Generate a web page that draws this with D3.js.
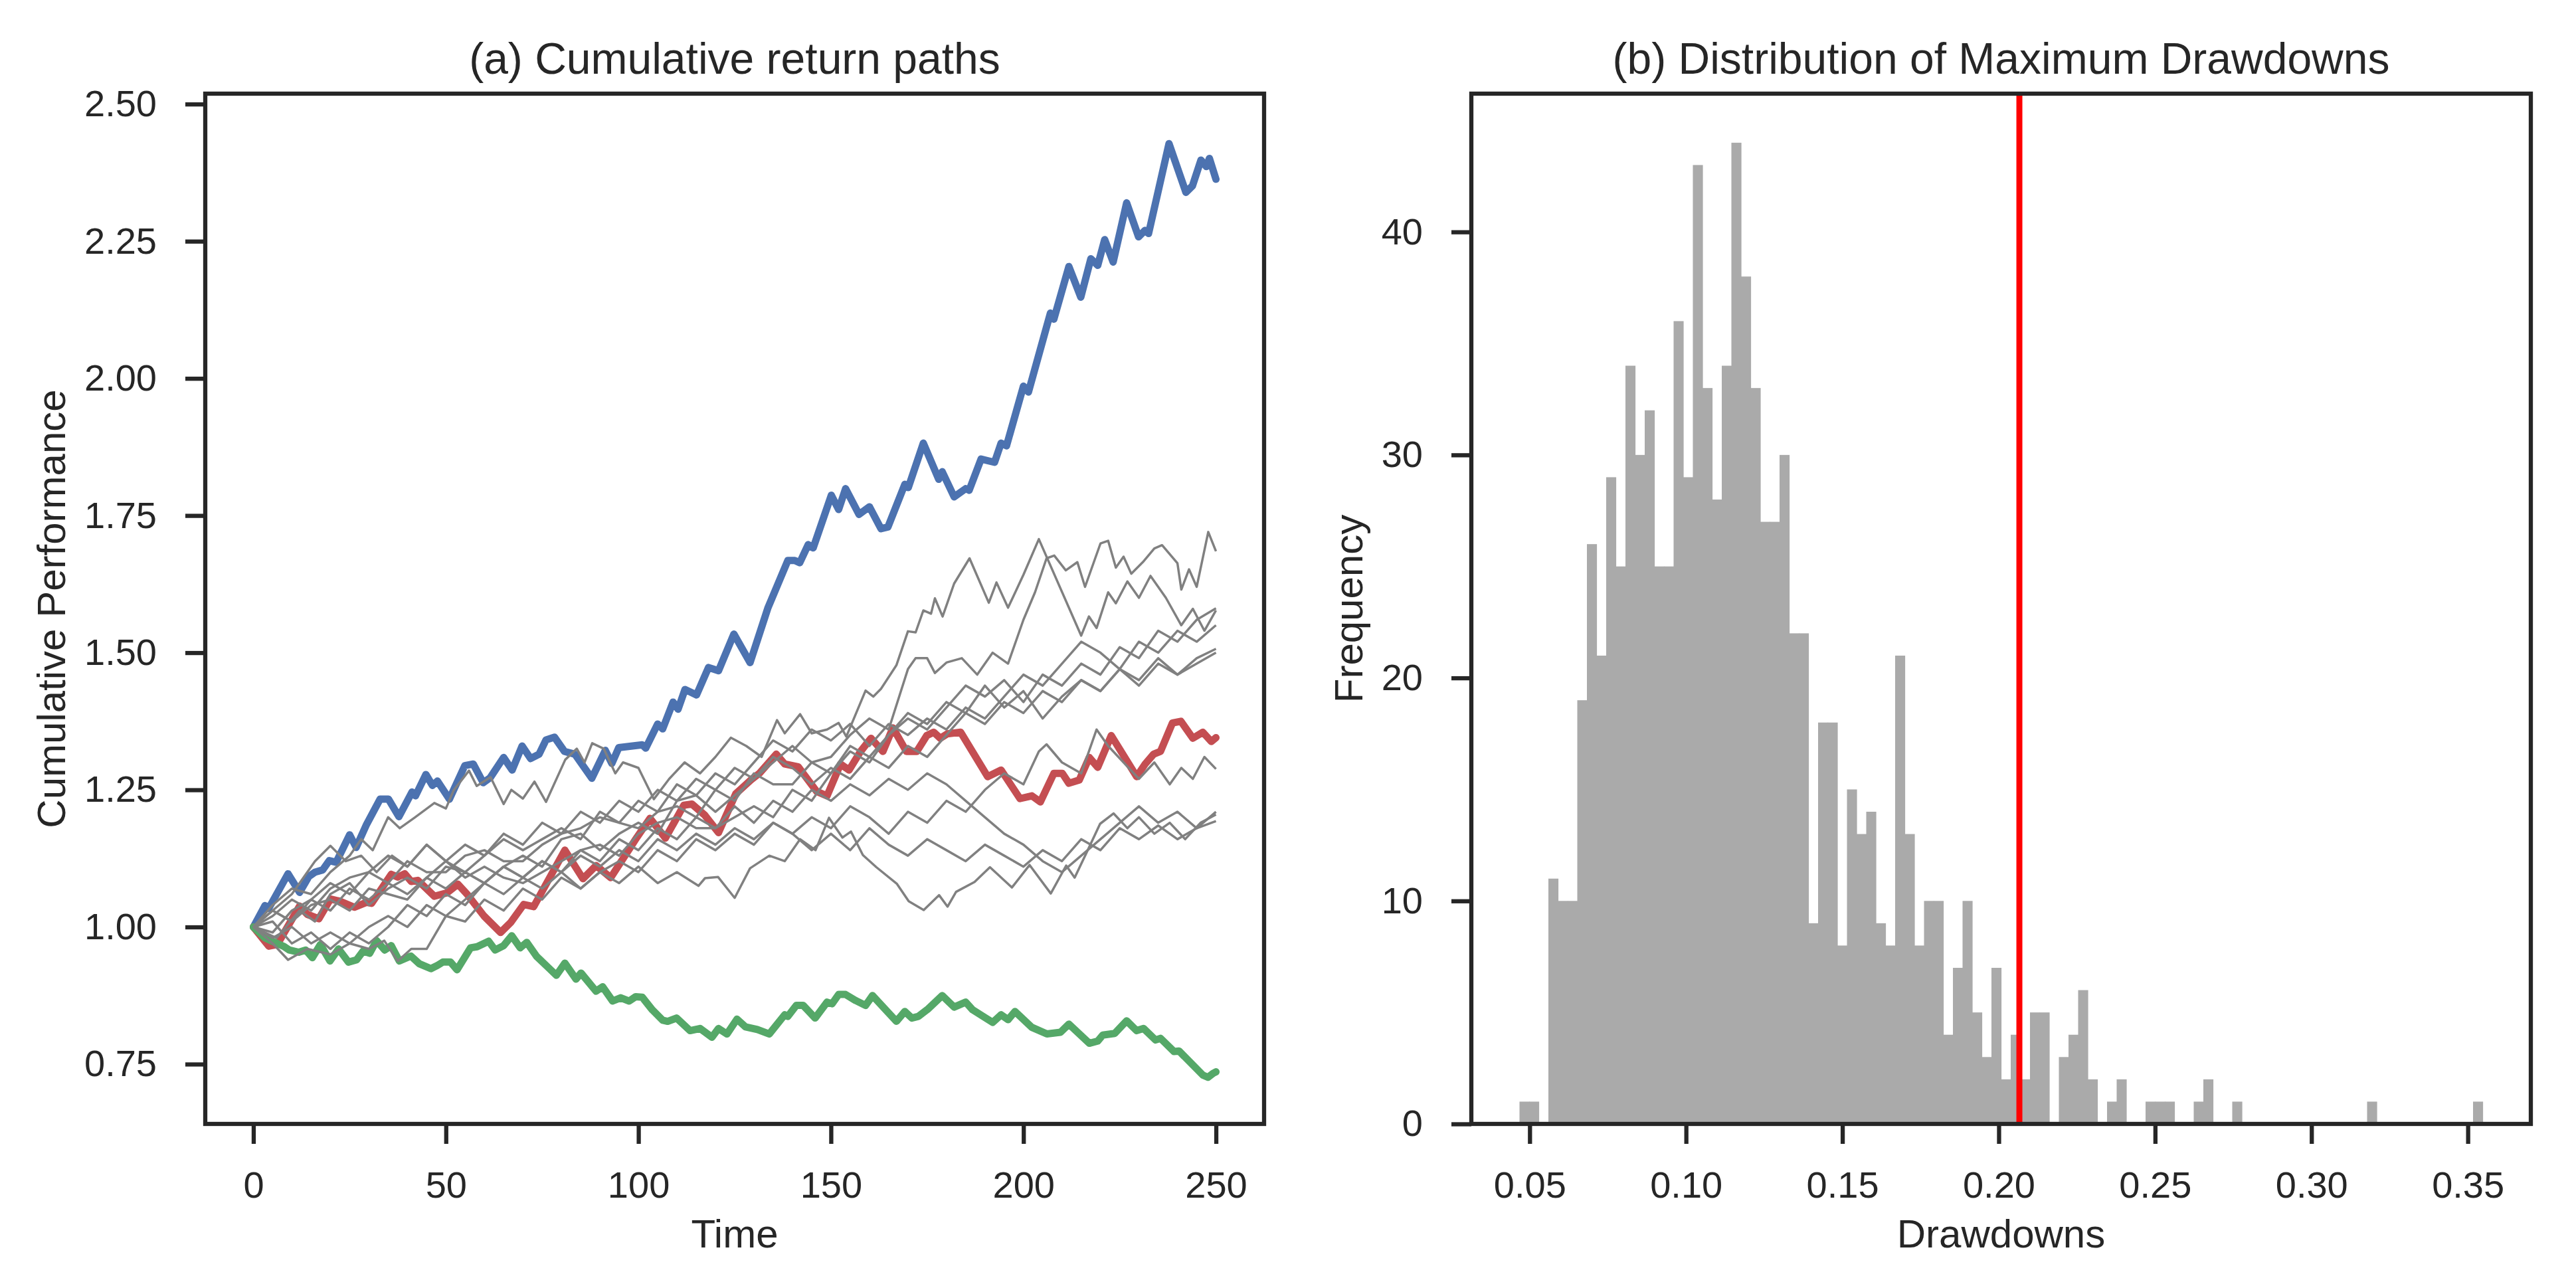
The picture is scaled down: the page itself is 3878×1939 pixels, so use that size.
<!DOCTYPE html>
<html><head><meta charset="utf-8">
<script src="https://cdn.jsdelivr.net/npm/d3@7"></script>
<style>
body{margin:0;background:#fff}
</style>
</head><body>
<svg id="c" width="3878" height="1939" xmlns="http://www.w3.org/2000/svg"></svg>
<script>
// ---------------- DATA ----------------
const timeTicks = [0, 50, 100, 150, 200, 250];
const perfTicks = [0.75, 1.00, 1.25, 1.50, 1.75, 2.00, 2.25, 2.50];
const ddTicks = [0.05, 0.10, 0.15, 0.20, 0.25, 0.30, 0.35];
const freqTicks = [0, 10, 20, 30, 40];

// best path (blue): [time, cumulative performance]
const bluePath = [[0,1.000],[3,1.039],[4,1.034],[9,1.097],[12,1.063],[14.4,1.092],[16,1.100],[18,1.104],[19.7,1.121],[21.5,1.118],[25,1.168],[26.7,1.145],[29.4,1.187],[32.9,1.233],[35.1,1.233],[37.8,1.201],[41.2,1.246],[42.1,1.239],[44.8,1.278],[46.5,1.258],[47.8,1.266],[50.9,1.233],[54.9,1.294],[57.1,1.297],[59.7,1.263],[61.5,1.272],[65,1.309],[67.2,1.286],[69.8,1.330],[72,1.307],[74.2,1.315],[76,1.341],[78.2,1.346],[80.8,1.320],[83.5,1.315],[87.9,1.271],[91.4,1.322],[93.1,1.298],[94.9,1.327],[101,1.332],[101.9,1.326],[105,1.370],[106.3,1.361],[109,1.410],[110.3,1.397],[112.1,1.433],[115.1,1.423],[118.2,1.473],[120.8,1.467],[124.8,1.534],[129,1.482],[133.6,1.581],[138.8,1.668],[140.6,1.668],[141.9,1.664],[144.1,1.697],[145.4,1.691],[150.1,1.787],[152,1.761],[153.8,1.799],[157.3,1.752],[160,1.766],[163,1.726],[164.8,1.729],[169.2,1.807],[170.1,1.801],[174,1.882],[178,1.816],[178.9,1.830],[182,1.784],[185,1.799],[185.9,1.796],[189,1.853],[190.7,1.850],[192.5,1.847],[194.2,1.882],[195.6,1.877],[200,1.986],[201.3,1.975],[207,2.119],[207.9,2.108],[211.8,2.204],[214.9,2.148],[217.5,2.218],[219.3,2.206],[221.1,2.253],[223.3,2.212],[226.8,2.320],[229.9,2.258],[231.6,2.270],[232.5,2.264],[237.8,2.428],[242.2,2.339],[243.9,2.351],[246.1,2.398],[247.5,2.386],[248.3,2.401],[250,2.363]];

// median path (red)
const redPath = [[0,1.000],[4,0.965],[6.2,0.968],[12,1.038],[14,1.023],[17,1.015],[20,1.051],[22.5,1.047],[26.2,1.036],[29.4,1.045],[30.7,1.043],[35.8,1.096],[37.5,1.091],[39.3,1.097],[41,1.083],[42.7,1.085],[47,1.056],[50.2,1.062],[53.1,1.078],[55.6,1.059],[59.9,1.020],[64.2,0.990],[66.8,1.008],[70.2,1.041],[72.8,1.037],[80.9,1.140],[85.6,1.088],[89,1.112],[92.8,1.090],[99.3,1.160],[103,1.198],[107,1.162],[111.8,1.222],[113.9,1.224],[117.2,1.204],[120.8,1.172],[125.3,1.243],[127.5,1.257],[129.2,1.268],[131.4,1.280],[135.8,1.315],[138,1.297],[141.5,1.292],[146.3,1.247],[149,1.239],[152.5,1.297],[154.7,1.286],[157.7,1.320],[160.4,1.344],[163.5,1.320],[166.1,1.363],[169.6,1.320],[172.3,1.320],[174.9,1.349],[176.7,1.355],[178.4,1.344],[180.2,1.352],[183.7,1.355],[190.7,1.274],[194.2,1.286],[199.1,1.234],[202.2,1.239],[204.4,1.228],[207.9,1.280],[210.1,1.280],[211.8,1.262],[214.5,1.268],[217.1,1.309],[219.3,1.291],[222.8,1.349],[229.4,1.274],[231.6,1.297],[233.8,1.315],[235.6,1.320],[238.7,1.372],[240.9,1.375],[244,1.344],[246.6,1.355],[248.8,1.338],[250,1.345]];

// worst path (green)
const greenPath = [[0,1.000],[3,0.980],[7.8,0.965],[9.3,0.958],[11.8,0.954],[13.6,0.958],[15.3,0.944],[17.4,0.968],[19.9,0.938],[22.1,0.960],[24.7,0.936],[26.8,0.940],[28.5,0.956],[30.2,0.952],[32,0.975],[34.1,0.958],[35.8,0.966],[37.9,0.938],[40.9,0.947],[43.1,0.933],[46.1,0.924],[47.8,0.930],[49.2,0.936],[51.2,0.936],[52.9,0.922],[56.4,0.962],[58.1,0.964],[61.1,0.974],[62.8,0.958],[65,0.966],[67.1,0.984],[69.3,0.962],[71,0.972],[73.6,0.946],[76.6,0.926],[78.7,0.912],[80.9,0.934],[83.8,0.905],[85.1,0.916],[89,0.883],[90.7,0.891],[93.3,0.865],[95.4,0.871],[97.6,0.865],[99.3,0.873],[101,0.872],[103.6,0.849],[106.3,0.830],[107.6,0.828],[109.9,0.834],[113.4,0.811],[116,0.815],[119.1,0.799],[120.8,0.815],[123,0.805],[125.6,0.832],[127.8,0.818],[130.9,0.813],[134,0.805],[138,0.840],[138.8,0.837],[141,0.857],[142.8,0.857],[145.9,0.834],[149,0.863],[150.3,0.860],[152,0.877],[153.8,0.877],[156.4,0.866],[159,0.857],[160.8,0.875],[167,0.828],[169.2,0.846],[171,0.834],[172.7,0.837],[175.3,0.851],[178.9,0.875],[182,0.854],[185,0.863],[186.8,0.849],[192,0.826],[194.2,0.840],[196,0.831],[197.8,0.846],[202.2,0.817],[206.1,0.805],[209.6,0.808],[211.8,0.823],[217.1,0.788],[219.3,0.792],[220.6,0.803],[223.7,0.806],[226.8,0.829],[229.4,0.811],[231.2,0.815],[234.3,0.794],[235.6,0.797],[239.1,0.773],[240.4,0.774],[246.6,0.730],[247.9,0.726],[249.2,0.733],[250,0.736]];

// other simulated paths (grey)
const grey1 = [[0,1.00],[5,1.04],[10,1.07],[15,1.06],[20,1.10],[25,1.13],[28,1.16],[31,1.14],[35,1.20],[38,1.18],[42,1.20],[47,1.226],[50,1.216],[52,1.249],[56,1.285],[58,1.257],[61.6,1.273],[65,1.224],[67,1.25],[70,1.234],[73,1.265],[76,1.228],[81,1.305],[84,1.325],[86,1.30],[88,1.335],[91,1.325],[94,1.28],[96,1.30],[100,1.29],[104,1.233],[108,1.27],[112,1.30],[116,1.28],[120,1.31],[124,1.345],[128,1.33],[132,1.31],[136,1.377],[138,1.353],[142,1.388],[145,1.353],[149,1.36],[152,1.372],[154,1.347],[159,1.431],[161,1.42],[163,1.434],[167,1.477],[170,1.539],[172,1.537],[174,1.577],[176,1.571],[177,1.599],[179,1.566],[182,1.626],[186,1.672],[191,1.591],[193,1.628],[196,1.582],[200,1.642],[204,1.707],[215,1.531],[217,1.566],[219,1.545],[222,1.61],[224,1.59],[227,1.63],[230,1.60],[233,1.64],[237,1.60],[241,1.55],[244,1.58],[247,1.54],[250,1.577]];
const grey2 = [[0,1.00],[6,0.98],[12,1.03],[16,1.01],[20,1.06],[25,1.08],[30,1.04],[35,1.07],[40,1.09],[45,1.07],[50,1.11],[55,1.10],[60,1.08],[65,1.11],[70,1.13],[75,1.11],[80,1.16],[85,1.17],[90,1.14],[95,1.17],[100,1.19],[105,1.17],[110,1.23],[115,1.24],[120,1.21],[125,1.24],[130,1.27],[135,1.30],[140,1.33],[145,1.30],[150,1.31],[155,1.35],[160,1.38],[165,1.36],[170,1.47],[172,1.49],[175,1.49],[177,1.463],[180,1.482],[184,1.49],[188,1.46],[192,1.50],[196,1.48],[200,1.56],[203,1.61],[206,1.672],[208,1.677],[211,1.65],[214,1.665],[216,1.62],[220,1.699],[222,1.704],[224,1.655],[226,1.675],[228,1.644],[231,1.665],[234,1.69],[236,1.696],[240,1.663],[241,1.615],[243,1.652],[245,1.62],[248,1.72],[250,1.685]];
const grey3 = [[0,1.00],[5,1.03],[10,1.01],[15,1.05],[20,1.03],[25,1.07],[30,1.05],[35,1.08],[40,1.06],[45,1.09],[50,1.07],[55,1.10],[60,1.08],[65,1.11],[70,1.09],[75,1.12],[80,1.10],[85,1.07],[90,1.10],[95,1.08],[100,1.11],[105,1.08],[110,1.10],[115.6,1.075],[117.3,1.089],[120.7,1.091],[125,1.053],[129,1.107],[134,1.13],[138,1.12],[142,1.16],[146,1.14],[149.5,1.199],[153,1.163],[155.2,1.174],[158.3,1.131],[161.8,1.109],[167.1,1.079],[170.2,1.047],[174.1,1.031],[178.1,1.058],[180.3,1.037],[182.5,1.064],[187.3,1.082],[191.3,1.109],[197,1.072],[201.6,1.113],[207.1,1.061],[211.1,1.112],[213.3,1.09],[216.3,1.134],[219.9,1.188],[223.4,1.207],[227,1.18],[230,1.20],[234,1.17],[238,1.19],[242,1.16],[246,1.19],[250,1.205]];
const grey4 = [[0,1.00],[5,0.97],[9,0.94],[14,0.96],[20,0.95],[25,0.97],[30,0.96],[34,0.975],[37.5,0.938],[41,0.96],[45,0.96],[50,1.02],[55,1.01],[60,1.05],[65,1.03],[70,1.07],[75,1.05],[80,1.09],[85,1.07],[90,1.10],[95,1.12],[100,1.10],[105,1.14],[110,1.12],[115,1.16],[120,1.14],[125,1.17],[130,1.15],[135,1.19],[140,1.17],[145,1.20],[150,1.18],[155,1.22],[160,1.20],[165,1.17],[170,1.21],[175,1.19],[180,1.23],[185,1.21],[190,1.25],[195,1.28],[200,1.26],[204,1.32],[206,1.333],[210,1.30],[215,1.28],[219,1.36],[222,1.33],[226,1.30],[230,1.27],[234,1.30],[238,1.26],[241,1.29],[244,1.27],[247,1.31],[250,1.288]];
const grey5 = [[0,1.00],[5,0.98],[10,1.00],[15,0.97],[20,0.99],[25,0.97],[30,1.00],[35,1.02],[40,1.00],[45,1.04],[50,1.02],[55,1.05],[60,1.08],[65,1.06],[70,1.09],[75,1.07],[80,1.10],[85,1.13],[90,1.11],[95,1.14],[100,1.12],[105,1.16],[110,1.14],[115,1.17],[120,1.15],[125,1.18],[130,1.16],[135,1.19],[140,1.17],[145,1.14],[150,1.17],[155,1.14],[160,1.18],[165,1.15],[170,1.13],[175,1.16],[180,1.14],[185,1.12],[190,1.15],[195,1.13],[200,1.11],[205,1.14],[210,1.12],[215,1.16],[220,1.14],[225,1.18],[230,1.16],[235,1.185],[240,1.16],[245,1.18],[250,1.193]];
const grey6 = [[0,1.00],[5,1.02],[10,1.05],[15,1.03],[20,1.07],[25,1.09],[30,1.10],[35,1.08],[40,1.12],[45,1.10],[50,1.10],[55,1.13],[60,1.14],[65,1.12],[70,1.12],[75,1.15],[80,1.17],[85,1.18],[90,1.20],[95,1.19],[100,1.18],[105,1.21],[110,1.22],[115,1.20],[120,1.25],[125,1.23],[130,1.28],[135,1.26],[140,1.26],[145,1.30],[150,1.28],[155,1.33],[160,1.31],[165,1.35],[170,1.39],[175,1.37],[180,1.41],[185,1.39],[190,1.44],[195,1.40],[200,1.43],[205,1.38],[210,1.42],[215,1.45],[220,1.43],[225,1.47],[230,1.44],[235,1.48],[240,1.46],[245,1.49],[250,1.507]];
const grey7 = [[0,1.00],[5,1.03],[10,1.01],[15,1.04],[20,1.05],[25,1.03],[30,1.07],[35,1.06],[40,1.05],[45,1.09],[50,1.12],[55,1.09],[60,1.11],[65,1.09],[70,1.08],[75,1.10],[80,1.12],[85,1.14],[90,1.15],[95,1.13],[100,1.17],[105,1.19],[110,1.20],[115,1.18],[120,1.18],[125,1.20],[130,1.22],[135,1.20],[140,1.25],[145,1.23],[150,1.28],[155,1.32],[160,1.30],[165,1.35],[170,1.38],[175,1.36],[180,1.40],[185,1.44],[190,1.42],[195,1.45],[200,1.41],[205,1.46],[210,1.44],[215,1.48],[220,1.46],[225,1.51],[230,1.49],[235,1.54],[240,1.52],[245,1.56],[250,1.581]];
const grey8 = [[0,1.00],[5,0.99],[10,1.03],[15,1.05],[20,1.08],[25,1.06],[30,1.10],[35,1.13],[40,1.11],[45,1.15],[50,1.12],[55,1.10],[60,1.13],[65,1.16],[70,1.14],[75,1.16],[80,1.18],[85,1.16],[90,1.21],[95,1.19],[100,1.23],[105,1.21],[110,1.26],[115,1.24],[120,1.28],[125,1.26],[130,1.30],[135,1.34],[140,1.32],[145,1.36],[150,1.34],[155,1.37],[160,1.33],[165,1.37],[170,1.35],[175,1.38],[180,1.36],[185,1.40],[190,1.38],[195,1.42],[200,1.46],[205,1.44],[210,1.48],[215,1.52],[220,1.50],[225,1.47],[230,1.52],[235,1.50],[240,1.54],[245,1.52],[250,1.55]];
const grey9 = [[0,1.00],[5,1.01],[10,0.97],[15,0.99],[20,0.96],[25,0.99],[30,0.97],[35,1.00],[40,1.04],[45,1.02],[50,1.06],[55,1.04],[60,1.08],[65,1.11],[70,1.09],[75,1.12],[80,1.10],[85,1.14],[90,1.12],[95,1.16],[100,1.14],[105,1.18],[110,1.16],[115,1.20],[120,1.18],[125,1.22],[130,1.19],[135,1.23],[140,1.21],[145,1.25],[150,1.23],[155,1.26],[160,1.24],[165,1.27],[170,1.25],[175,1.28],[180,1.26],[185,1.23],[190,1.20],[195,1.17],[200,1.15],[205,1.12],[210,1.10],[215,1.13],[220,1.16],[225,1.19],[230,1.22],[235,1.19],[240,1.21],[245,1.18],[250,1.21]];
const grey10 = [[0,1.00],[5,1.03],[10,1.06],[16,1.12],[20,1.148],[24,1.12],[28,1.13],[32,1.10],[36,1.13],[40,1.11],[45,1.15],[50,1.12],[55,1.15],[60,1.13],[65,1.17],[70,1.15],[75,1.19],[80,1.17],[85,1.21],[90,1.19],[95,1.23],[100,1.21],[105,1.25],[110,1.23],[115,1.27],[120,1.25],[125,1.29],[130,1.27],[135,1.31],[140,1.29],[145,1.26],[150,1.29],[155,1.27],[160,1.31],[165,1.29],[170,1.33],[175,1.31],[180,1.35],[185,1.39],[190,1.37],[195,1.41],[200,1.39],[205,1.43],[210,1.41],[215,1.45],[220,1.43],[225,1.47],[230,1.45],[235,1.49],[240,1.46],[245,1.48],[250,1.50]];
const greyPaths = [grey1, grey2, grey3, grey4, grey5, grey6, grey7, grey8, grey9, grey10];

// histogram of maximum drawdowns: 100 equal bins over the range
const histRange = [0.04675, 0.35475];
const histCounts = [1,1,0,11,10,10,19,26,21,29,25,34,30,32,25,25,36,29,43,33,28,34,44,38,33,27,27,30,22,22,9,18,18,8,15,13,14,9,8,21,13,8,10,10,4,7,
  10,5,3,7,2,4,2,5,5,0,3,4,6,2,0,1,2,0,0,1,1,1,0,0,1,2,0,0,1,
  0,0,0,0,0,0,0,0,0,0,0,0,0,1,0,0,0,0,0,0,0,0,0,0,1];
const ddQuantile = 0.2066;

// ---------------- DRAW ----------------
const FONT = '"Liberation Sans", Arial, Helvetica, sans-serif';
const INK = "#262626";
const svg = d3.select("#c");
svg.append("rect").attr("width", 3878).attr("height", 1939).attr("fill", "#fff");

const TOP = 141, BOT = 1692;
const L = {x0: 309, x1: 1903}, R = {x0: 2215, x1: 3810};
const SPINE_W = 6.3;

function styleAxis(g) {
  g.attr("font-family", FONT).attr("font-size", 56);
  g.select(".domain").remove();
  g.selectAll(".tick line").attr("stroke", INK).attr("stroke-width", SPINE_W);
  g.selectAll(".tick text").attr("fill", INK);
}

// ---- left panel ----
const xL = d3.scaleLinear().domain([-12.5, 262.5]).range([L.x0, L.x1]);
const yL = d3.scaleLinear().domain([0.641, 2.519]).range([BOT, TOP]);

const gL = svg.append("g");
const line = d3.line().x(d => xL(d[0])).y(d => yL(d[1]));

gL.selectAll("path.col").data([
  {p: bluePath, c: "#4C72B0"}, {p: redPath, c: "#C44E52"}, {p: greenPath, c: "#55A868"}
]).join("path").attr("class", "col")
  .attr("d", d => line(d.p)).attr("fill", "none").attr("stroke", d => d.c)
  .attr("stroke-width", 11).attr("stroke-linejoin", "round").attr("stroke-linecap", "round");

gL.selectAll("path.grey").data(greyPaths).join("path").attr("class", "grey")
  .attr("d", d => line(d)).attr("fill", "none").attr("stroke", "#808080")
  .attr("stroke-width", 3.5).attr("stroke-linejoin", "round");

svg.append("g").attr("transform", `translate(0,${BOT})`)
  .call(d3.axisBottom(xL).tickValues(timeTicks).tickSize(30).tickPadding(41).tickFormat(d3.format("d")))
  .call(styleAxis);
svg.append("g").attr("transform", `translate(${L.x0},0)`)
  .call(d3.axisLeft(yL).tickValues(perfTicks).tickSize(30).tickPadding(43).tickFormat(d3.format(".2f")))
  .call(styleAxis);

svg.append("rect").attr("x", L.x0).attr("y", TOP).attr("width", L.x1 - L.x0).attr("height", BOT - TOP)
  .attr("fill", "none").attr("stroke", INK).attr("stroke-width", SPINE_W);

// ---- right panel ----
const xR = d3.scaleLinear().domain([0.03135, 0.37015]).range([R.x0, R.x1]);
const yR = d3.scaleLinear().domain([0, 46.2]).range([BOT, TOP]);
const binW = (histRange[1] - histRange[0]) / histCounts.length;
const bins = histCounts.map((c, i) => ({x0: histRange[0] + i * binW, x1: histRange[0] + (i + 1) * binW, c}));

svg.append("g").selectAll("rect").data(bins.filter(b => b.c > 0)).join("rect")
  .attr("x", d => xR(d.x0)).attr("width", d => xR(d.x1) - xR(d.x0) + 0.6)
  .attr("y", d => yR(d.c)).attr("height", d => yR(0) - yR(d.c))
  .attr("fill", "#aaaaaa");

svg.append("line").attr("x1", xR(ddQuantile)).attr("x2", xR(ddQuantile))
  .attr("y1", TOP).attr("y2", BOT).attr("stroke", "#ff0000").attr("stroke-width", 9);

svg.append("g").attr("transform", `translate(0,${BOT})`)
  .call(d3.axisBottom(xR).tickValues(ddTicks).tickSize(30).tickPadding(41).tickFormat(d3.format(".2f")))
  .call(styleAxis);
svg.append("g").attr("transform", `translate(${R.x0},0)`)
  .call(d3.axisLeft(yR).tickValues(freqTicks).tickSize(30).tickPadding(43).tickFormat(d3.format("d")))
  .call(styleAxis);

svg.append("rect").attr("x", R.x0).attr("y", TOP).attr("width", R.x1 - R.x0).attr("height", BOT - TOP)
  .attr("fill", "none").attr("stroke", INK).attr("stroke-width", SPINE_W);

// ---- texts ----
function txt(x, y, s, opts = {}) {
  const t = svg.append("text").attr("x", x).attr("y", y).text(s)
    .attr("font-family", FONT).attr("font-size", opts.size || 60).attr("fill", INK)
    .attr("text-anchor", "middle");
  if (opts.rot) t.attr("transform", `rotate(-90,${x},${y})`);
  return t;
}
txt((L.x0 + L.x1) / 2, 111, "(a) Cumulative return paths", {size: 66});
txt((R.x0 + R.x1) / 2, 111, "(b) Distribution of Maximum Drawdowns", {size: 66});
txt((L.x0 + L.x1) / 2, 1878, "Time");
txt((R.x0 + R.x1) / 2, 1878, "Drawdowns");
txt(98, (TOP + BOT) / 2, "Cumulative Performance", {rot: true});
txt(2051, (TOP + BOT) / 2, "Frequency", {rot: true});
</script>
</body></html>
